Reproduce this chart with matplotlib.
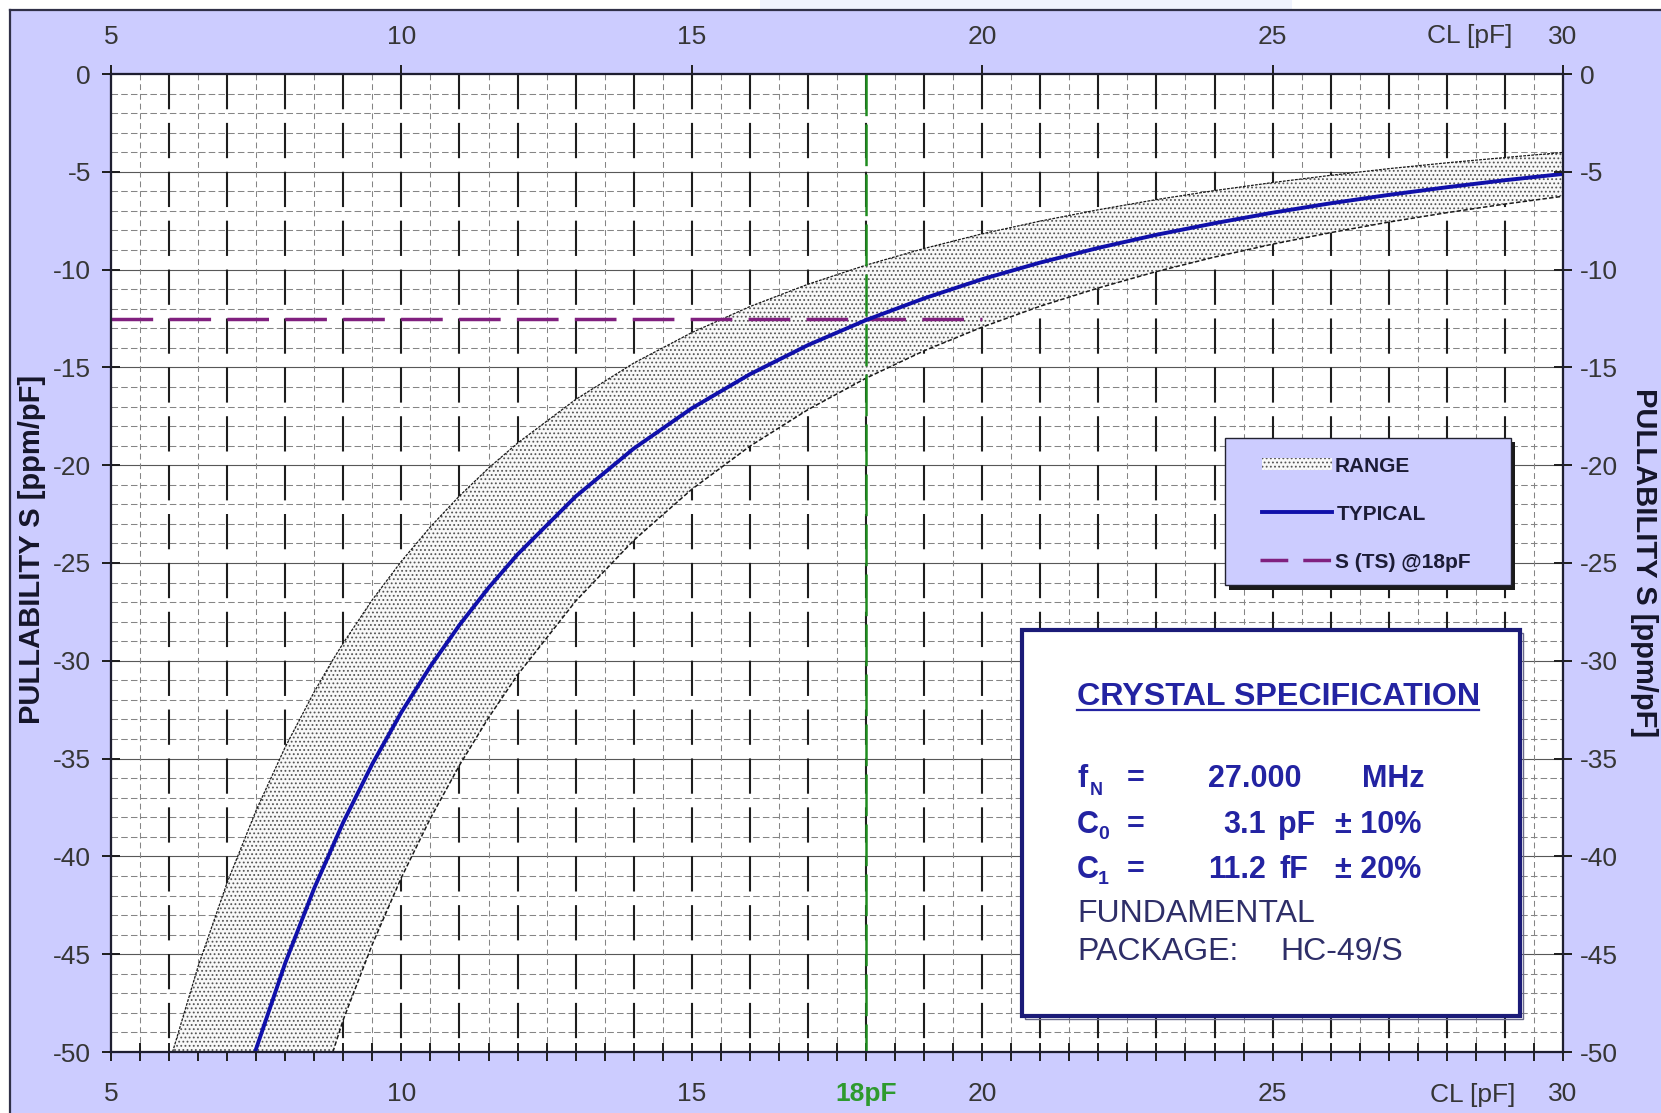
import matplotlib
matplotlib.use('Agg')
import matplotlib.pyplot as plt
from matplotlib.patches import Rectangle
from matplotlib.lines import Line2D
import numpy as np

plt.rcParams['font.family'] = ['Liberation Sans', 'DejaVu Sans']
plt.rcParams['lines.scale_dashes'] = False
plt.rcParams['hatch.linewidth'] = 0.8
plt.rcParams['axes.unicode_minus'] = False

W, H, DPI = 1661, 1113, 100

# ---------------- data ----------------
cl_typ = [7.48, 8.0, 8.5, 9.0, 9.5, 10.0, 10.5, 11.0, 11.5, 12.0, 13.0, 14.0, 15.0,
          16.0, 17.0, 18.0, 19.0, 20.0, 21.0, 22.0, 23.0, 24.0, 25.0, 26.0, 27.0,
          28.0, 29.0, 30.0]
s_typ = [-50.0, -45.45, -41.62, -38.25, -35.27, -32.63, -30.28, -28.17, -26.27, -24.56,
         -21.60, -19.15, -17.09, -15.35, -13.86, -12.58, -11.47, -10.49, -9.64, -8.89,
         -8.22, -7.63, -7.09, -6.61, -6.18, -5.79, -5.43, -5.11]

cl_band = [6.06, 6.5, 7.0, 7.5, 8.0, 8.5, 8.82, 9.0, 9.5, 10.0, 10.5, 11.0, 11.5, 12.0,
           13.0, 14.0, 15.0, 16.0, 17.0, 18.0, 19.0, 20.0, 21.0, 22.0, 23.0, 24.0,
           25.0, 26.0, 27.0, 28.0, 29.0, 30.0]
s_upper = [-50.0, -45.62, -41.34, -37.64, -34.41, -31.58, -29.95, -29.09, -26.88, -24.91,
           -23.15, -21.57, -20.15, -18.87, -16.64, -14.78, -13.22, -11.89, -10.75, -9.77,
           -8.92, -8.17, -7.52, -6.94, -6.42, -5.96, -5.55, -5.18, -4.84, -4.54, -4.27,
           -4.01]
s_lower = [-50.0, -50.0, -50.0, -50.0, -50.0, -50.0, -50.0, -48.34, -44.49, -41.08,
           -38.05, -35.34, -32.91, -30.72, -26.95, -23.84, -21.23, -19.03, -17.16, -15.55,
           -14.15, -12.94, -11.87, -10.94, -10.10, -9.36, -8.70, -8.11, -7.57, -7.09,
           -6.65, -6.25]
lower_start = 8.82          # lower range curve enters the plot here

cl_nominal = 18.0           # CL marker
s_ts = -12.5                # S (TS) @18pF
ts_line_x = [5.0, 20.0]

x_major_bottom = [5, 10, 15, 18, 20, 25, 30]
x_labels_bottom = ['5', '10', '15', '18pF', '20', '25', '30']
x_major_top = [5, 10, 15, 20, 25, 30]
y_major = [0, -5, -10, -15, -20, -25, -30, -35, -40, -45, -50]

spec_title = 'CRYSTAL SPECIFICATION'
spec_fn = '27.000'
spec_c0 = '3.1'
spec_c1 = '11.2'

# ---------------- figure ----------------
fig = plt.figure(figsize=(W / DPI, H / DPI), dpi=DPI, facecolor='white')

def fx(x): return x / W
def fy(y): return 1 - y / H

LAV = '#CCCCFF'
fig.add_artist(Rectangle((fx(10), 0), 1 - fx(10), fy(10), transform=fig.transFigure,
                         facecolor=LAV, edgecolor='none', zorder=-10))
fig.add_artist(Rectangle((fx(760), fy(9)), fx(1292) - fx(760), 1 - fy(9),
                         transform=fig.transFigure, facecolor='#F0F3FE',
                         edgecolor='none', zorder=-10))
fig.add_artist(Line2D([fx(10), fx(10)], [0, fy(10)], transform=fig.transFigure,
                      color='#303048', lw=1.6, zorder=-9))
fig.add_artist(Line2D([fx(10), 1], [fy(10), fy(10)], transform=fig.transFigure,
                      color='#303048', lw=1.6, zorder=-9))

ax = fig.add_axes([fx(111), fy(1052), fx(1563) - fx(111), fy(74) - fy(1052)])
ax.set_facecolor('white')
ax.set_xlim(5, 30)
ax.set_ylim(-50, 0)

# grid
for y in range(-49, 0):
    if y % 5 == 0:
        ax.axhline(y, color='#585858', lw=0.8, zorder=1)
    else:
        ax.axhline(y, color='#858585', lw=0.75, ls=(0, (4.7, 2.3)), zorder=1)
for x in np.arange(5.5, 30, 1.0):
    ax.plot([x, x], [0, -50], color='#858585', lw=0.75, ls=(0, (4.2, 2.8)), zorder=1)
for x in range(6, 30):
    ax.plot([x, x], [0, -50], color='#1e1e1e', lw=1.5, ls=(0, (25.4, 9.8)), zorder=1)

# range band
ax.fill_between(cl_band, s_upper, s_lower, facecolor='#f8f8f8', edgecolor='#555555',
                hatch='....', linewidth=0, zorder=2)
ax.plot(cl_band, s_upper, color='#1a1a1a', lw=0.9, ls=(0, (2.0, 0.9)), zorder=3)
idx = [i for i, c in enumerate(cl_band) if c >= lower_start]
ax.plot([cl_band[i] for i in idx], [s_lower[i] for i in idx], color='#1a1a1a', lw=1.1,
        ls=(0, (3.2, 1.6)), zorder=3)

# markers
ax.plot([cl_nominal, cl_nominal], [0, -50], color='#1E8C1E', lw=1.8,
        ls=(0, (30, 6)), zorder=4)
ax.plot(ts_line_x, [s_ts, s_ts], color='#80207F', lw=2.5, ls=(0, (30, 11.7)), zorder=4)

# typical
ax.plot(cl_typ, s_typ, color='#1010AA', lw=2.8, zorder=5)

# spines / ticks
for sp in ax.spines.values():
    sp.set_color('#1e1e30')
    sp.set_linewidth(1.5)

TXT = '#363636'
ax.set_xticks(x_major_bottom)
ax.set_xticklabels(x_labels_bottom)
ax.set_xticks(np.arange(5, 30.01, 0.5), minor=True)
ax.tick_params(axis='x', which='both', direction='inout', length=13, width=1.4,
               color='#1e1e1e', top=False, labelsize=19, pad=15, labelcolor=TXT)
lab18 = ax.get_xticklabels()[3]
lab18.set_color('#2E9A2E')
lab18.set_fontweight('bold')
ax.set_yticks(y_major)
ax.set_yticklabels([str(v) for v in y_major])
ax.tick_params(axis='y', which='both', direction='inout', length=13, width=1.4,
               color='#1e1e1e', right=False, labelsize=19, pad=8, labelcolor=TXT)

ax_top = ax.twiny()
ax_top.set_xlim(5, 30)
ax_top.set_xticks(x_major_top)
ax_top.set_xticklabels([str(v) for v in x_major_top])
ax_top.tick_params(axis='x', direction='inout', length=13, width=1.4, color='#1e1e1e',
                   labelsize=19, pad=11.5, labelcolor=TXT)

ax_r = ax.twinx()
ax_r.set_ylim(-50, 0)
ax_r.set_yticks(y_major)
ax_r.set_yticklabels([str(v) for v in y_major])
ax_r.tick_params(axis='y', direction='inout', length=13, width=1.4, color='#1e1e1e',
                 labelsize=19, pad=6, labelcolor=TXT)
for a in (ax_top, ax_r):
    for sp in a.spines.values():
        sp.set_color('#1e1e30')
        sp.set_linewidth(1.5)

fig.text(fx(1470), fy(43), 'CL [pF]', ha='center', va='baseline', fontsize=19, color=TXT)
fig.text(fx(1473), fy(1102), 'CL [pF]', ha='center', va='baseline', fontsize=19, color=TXT)

fig.text(fx(32), fy(549), 'PULLABILITY S [ppm/pF]', rotation=90, ha='center', va='center',
         fontsize=21, fontweight='bold', color='#15152a')
fig.text(fx(1644), fy(563), 'PULLABILITY S [ppm/pF]', rotation=270, ha='center',
         va='center', fontsize=21, fontweight='bold', color='#15152a')

# ---------------- legend ----------------
def frect(x0, y0, x1, y1, **kw):
    r = Rectangle((fx(x0), fy(y1)), fx(x1) - fx(x0), fy(y0) - fy(y1),
                  transform=fig.transFigure, **kw)
    fig.add_artist(r)
    return r

frect(1229, 442, 1515, 590, facecolor='#1a1a1a', edgecolor='none', zorder=10)
frect(1225, 438, 1511, 585, facecolor=LAV, edgecolor='#222230', lw=1.0, zorder=11)
frect(1262, 458, 1332, 470, facecolor='#f8f8f8', edgecolor='#555555', hatch='....',
      lw=0, zorder=12)
fig.add_artist(Line2D([fx(1262), fx(1332)], [fy(512), fy(512)], transform=fig.transFigure,
                      color='#1010AA', lw=2.8, zorder=12))
fig.add_artist(Line2D([fx(1260), fx(1332)], [fy(560), fy(560)], transform=fig.transFigure,
                      color='#80207F', lw=2.5, ls=(0, (20, 10.8)), zorder=12))
LEGC = '#1c1c36'
for txt, xx, yy in [('RANGE', 1335, 472), ('TYPICAL', 1337, 520), ('S (TS) @18pF', 1335, 568)]:
    fig.text(fx(xx), fy(yy), txt, ha='left', va='baseline', fontsize=15,
             fontweight='bold', color=LEGC, zorder=13)

# ---------------- specification box ----------------
frect(1025, 633, 1523, 1019, facecolor='none', edgecolor='#6a6a8a', lw=1.0, zorder=10)
frect(1022, 630, 1520, 1016, facecolor='white', edgecolor='#1B1B78', lw=3.0, zorder=11)

BLU = '#2323A2'
REG = '#2E2E68'
def t(x, y, s, size=22, weight='bold', color=BLU):
    fig.text(fx(x), fy(y), s, ha='left', va='baseline', fontsize=size,
             fontweight=weight, color=color, zorder=13)

t(1077, 705, spec_title, size=23.2, weight='bold')
fig.add_artist(Line2D([fx(1077), fx(1479)], [fy(710), fy(710)], transform=fig.transFigure,
                      color=BLU, lw=1.6, zorder=13))
t(1077, 787, 'f')
t(1090, 795, 'N', size=13)
t(1127, 787, '=')
t(1208, 787, spec_fn)
t(1362, 787, 'MHz')

t(1077, 833, 'C')
t(1098, 839, '0', size=14)
t(1127, 833, '=')
t(1223, 833, spec_c0)
t(1278, 833, 'pF')
t(1335, 833, '\u00b1 10%')

t(1077, 878, 'C')
t(1098, 884, '1', size=14)
t(1127, 878, '=')
t(1208, 878, spec_c1)
t(1280, 878, 'fF')
t(1335, 878, '\u00b1 20%')

t(1077, 922, 'FUNDAMENTAL', size=23, weight='normal', color=REG)
t(1077, 960, 'PACKAGE:', size=23, weight='normal', color=REG)
t(1280, 960, 'HC-49/S', size=23, weight='normal', color=REG)

fig.savefig('out.png', dpi=DPI, facecolor='white')
